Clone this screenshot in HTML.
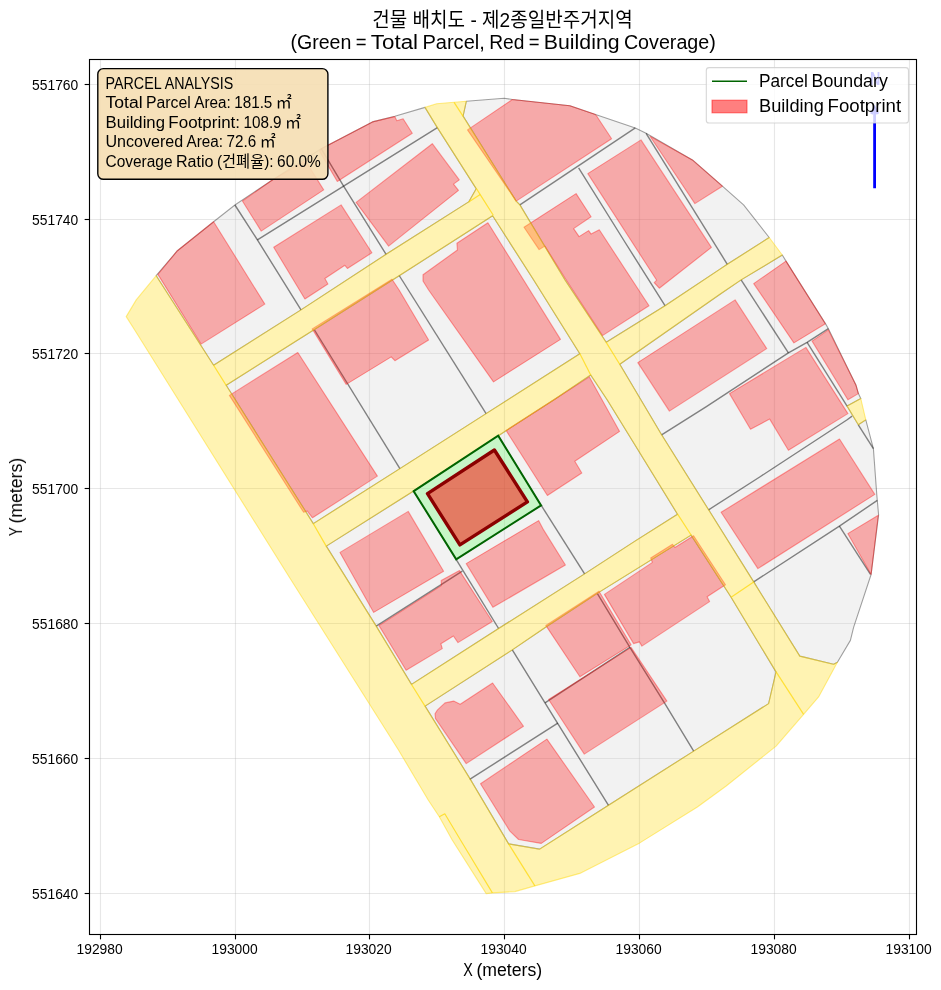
<!DOCTYPE html>
<html lang="en"><head><meta charset="utf-8"><title>Building Layout</title>
<style>html,body{margin:0;padding:0;background:#fff}body{width:941px;height:990px;overflow:hidden}svg{display:block}text{font-family:"Liberation Sans","Noto Sans CJK KR",sans-serif;fill:#000;filter:url(#gs)}</style></head><body>
<svg width="941" height="990" viewBox="0 0 941 990">
<rect width="941" height="990" fill="#fff"/>
<defs><filter id="gs" x="-5%" y="-20%" width="110%" height="140%" color-interpolation-filters="sRGB"><feOffset dx="0" dy="0"/></filter><clipPath id="ax"><rect x="89.50" y="59.50" width="827.00" height="875.00"/></clipPath></defs>
<g clip-path="url(#ax)">
<g stroke="#b0b0b0" stroke-opacity="0.3" stroke-width="1.1" fill="none">
<line x1="100.50" y1="59.50" x2="100.50" y2="934.50"/>
<line x1="89.50" y1="893.50" x2="916.50" y2="893.50"/>
<line x1="235.50" y1="59.50" x2="235.50" y2="934.50"/>
<line x1="89.50" y1="758.50" x2="916.50" y2="758.50"/>
<line x1="369.50" y1="59.50" x2="369.50" y2="934.50"/>
<line x1="89.50" y1="623.50" x2="916.50" y2="623.50"/>
<line x1="504.50" y1="59.50" x2="504.50" y2="934.50"/>
<line x1="89.50" y1="488.50" x2="916.50" y2="488.50"/>
<line x1="639.50" y1="59.50" x2="639.50" y2="934.50"/>
<line x1="89.50" y1="353.50" x2="916.50" y2="353.50"/>
<line x1="774.50" y1="59.50" x2="774.50" y2="934.50"/>
<line x1="89.50" y1="219.50" x2="916.50" y2="219.50"/>
<line x1="909.50" y1="59.50" x2="909.50" y2="934.50"/>
<line x1="89.50" y1="84.50" x2="916.50" y2="84.50"/>
</g>
<path d="M646.1 133.3 L635.3 127.9 L594.8 114.2 L569.9 105.7 L512.4 99.5 L504.2 98.2 L466.3 101.3 L466.3 101.3 L466.3 101.3 L466.3 101.3 L466.3 101.3 L463.1 116.1 L516.2 201.1 L519.9 204.9 L519.9 204.9 L519.9 204.9 L565.0 280.0 L606.2 342.3 L665.0 305.7 L720.0 269.1 L720.0 269.1 L727.3 264.3 L727.3 264.3 L769.2 237.5 L743.6 204.9 L722.4 186.2 L692.4 159.9Z M234.9 205.0 L213.6 221.7 L177.4 250.7 L156.2 275.7 L156.2 275.7 L156.2 275.7 L156.2 275.7 L156.2 275.7 L213.6 365.2 L301.0 309.9 L386.1 254.3 L386.1 254.3 L468.7 201.9 L476.2 188.7 L476.2 188.6 L437.5 127.9 L437.5 127.9 L425.0 107.4 L425.0 107.4 L425.0 107.4 L425.0 107.4 L394.8 116.2 L372.4 121.9 L321.2 148.7 L272.3 180.0Z M399.9 468.6 L486.1 413.6 L579.8 353.7 L533.7 280.0 L492.6 215.8 L465.0 233.5 L465.0 233.5 L401.1 274.5 L401.1 274.5 L313.6 330.0 L313.6 330.0 L226.2 385.3 L313.3 523.6Z M878.6 514.9 L876.8 494.9 L873.4 448.6 L865.8 419.9 L858.3 424.8 L858.3 424.8 L858.3 424.8 L858.3 424.8 L858.3 424.8 L858.3 424.8 L858.3 424.8 L858.3 424.8 L858.3 424.8 L858.3 424.8 L858.3 424.8 L858.3 424.8 L858.3 424.8 L858.3 424.8 L858.3 424.8 L858.3 424.8 L858.3 424.8 L847.1 406.1 L847.1 406.1 L847.1 406.1 L847.1 406.1 L847.1 406.1 L847.1 406.1 L847.1 406.1 L847.1 406.1 L847.1 406.1 L847.1 406.1 L847.1 406.1 L847.1 406.1 L847.1 406.1 L847.1 406.1 L847.1 406.1 L847.1 406.1 L847.1 406.1 L860.8 398.6 L860.8 398.6 L858.4 393.6 L855.9 384.9 L828.4 328.7 L825.9 324.4 L786.0 261.1 L782.3 255.0 L782.3 255.0 L741.1 279.9 L720.0 294.2 L619.8 364.2 L661.6 434.8 L708.6 509.8 L753.7 581.9 L753.7 581.9 L799.8 656.1 L833.6 664.3 L837.4 662.3 L837.4 662.3 L837.4 662.3 L837.4 662.3 L837.4 662.3 L837.4 662.3 L837.4 662.3 L837.4 662.3 L837.4 662.3 L837.4 662.3 L837.4 662.3 L837.4 662.3 L850.4 640.4 L853.6 627.3 L871.1 574.5Z M498.3 435.8 L541.1 505.4 L456.2 559.3 L413.7 491.2 L466.2 456.7 L413.6 491.0 L413.6 491.0 L326.3 546.1 L376.2 626.1 L376.2 626.1 L411.5 684.4 L498.6 628.5 L498.6 628.5 L584.6 573.9 L635.0 541.1 L635.0 541.1 L677.5 514.2 L635.0 445.0 L607.3 400.0 L590.7 375.0 L553.6 400.0 L553.6 400.0 L498.3 435.7Z M512.3 649.9 L425.1 706.1 L469.9 778.6 L469.9 778.6 L508.6 843.9 L539.6 849.1 L608.5 805.3 L693.7 751.1 L693.7 751.1 L768.6 703.6 L776.0 671.9 L731.1 597.3 L691.1 535.1 L599.6 591.9 L547.4 626.0 L512.3 649.9Z" fill="#d3d3d3" fill-opacity="0.3" stroke="#000" stroke-opacity="0.36" stroke-width="1.1" stroke-linejoin="round"/>
<g fill="none" stroke="#000" stroke-opacity="0.47" stroke-width="1.4" stroke-linecap="butt" stroke-linejoin="round">
<polyline points="234.9,205.0 257.4,239.9 301.0,309.9"/>
<polyline points="257.4,239.9 343.6,186.1 437.4,127.6"/>
<polyline points="321.2,148.7 343.6,186.1 386.1,254.3"/>
<polyline points="314.5,330.0 399.9,468.6"/>
<polyline points="399.2,275.5 486.1,413.6"/>
<polyline points="519.9,204.9 635.3,127.9"/>
<polyline points="578.6,167.9 623.6,240.0 665.0,305.7"/>
<polyline points="646.1,133.3 727.3,264.3"/>
<polyline points="741.1,279.9 788.4,352.9"/>
<polyline points="661.6,434.8 706.0,406.8 788.4,352.9 807.1,342.4 828.4,328.7"/>
<polyline points="807.1,342.4 847.1,406.1"/>
<polyline points="858.3,424.8 873.4,448.6"/>
<polyline points="708.6,509.8 759.7,477.0 846.8,420.0 852.1,416.1"/>
<polyline points="753.7,581.9 839.4,526.1 877.3,500.4"/>
<polyline points="839.4,526.1 870.5,574.3"/>
<polyline points="541.1,505.2 584.6,573.9"/>
<polyline points="456.1,559.3 498.6,628.5"/>
<polyline points="376.2,626.1 462.3,571.2"/>
<polyline points="512.3,649.9 545.0,702.9 557.8,723.7 608.5,805.3"/>
<polyline points="469.7,779.4 557.8,723.1"/>
<polyline points="545.0,702.9 629.9,647.4"/>
<polyline points="597.4,593.7 629.9,647.4 664.9,703.6 693.7,751.1"/>
</g>
<g fill="#ff0000" fill-opacity="0.3" stroke="#ff0000" stroke-opacity="0.36" stroke-width="1.1" stroke-linejoin="round">
<polygon points="157.9,274.4 177.4,250.7 213.6,221.7 264.8,304.1 201.1,344.1"/>
<polygon points="242.4,201.0 272.3,180.0 305.5,160.8 323.7,189.9 261.2,231.1"/>
<polygon points="337.3,181.5 412.3,133.2 403.1,118.7 396.8,120.7 394.8,116.6 372.4,121.9 321.2,148.7 319.6,151.4"/>
<polygon points="273.7,247.3 341.1,204.9 371.9,252.8 347.4,268.5 344.9,265.3 324.9,278.5 327.9,284.0 304.9,299.0"/>
<polygon points="356.1,202.4 432.3,143.7 459.3,179.9 453.5,184.1 458.5,190.4 388.6,246.1"/>
<polygon points="467.5,129.9 512.4,99.5 569.9,105.7 594.8,114.2 596.8,116.2 611.6,138.7 516.2,201.1"/>
<polygon points="524.0,227.3 576.1,193.6 591.1,216.8 573.6,228.6 579.1,236.6 588.6,230.6 591.1,234.1 599.3,229.8 649.0,305.7 602.5,335.6 566.2,280.0 544.9,246.1 539.1,249.6"/>
<polygon points="587.8,173.6 641.0,139.9 711.4,247.4 659.3,288.2 654.2,282.7 656.7,280.2"/>
<polygon points="650.0,136.2 692.4,159.9 722.4,186.2 694.9,203.6"/>
<polygon points="423.0,274.8 457.4,250.0 456.9,243.3 487.9,222.8 560.5,339.4 493.5,381.9 428.6,290.0 423.0,281.0"/>
<polygon points="312.2,328.9 392.0,279.2 399.1,290.0 428.6,340.0 394.9,360.7 391.2,356.9 346.2,384.4"/>
<polygon points="229.4,395.4 297.8,352.5 377.4,476.1 312.5,517.8 307.3,511.1 303.6,512.3"/>
<polygon points="340.0,552.4 408.2,511.4 443.6,571.2 373.7,612.4"/>
<polygon points="506.1,430.5 589.4,376.9 619.6,431.4 574.8,461.2 581.8,473.0 547.4,495.5"/>
<polygon points="466.2,563.6 538.6,520.6 543.6,529.9 565.4,565.0 492.9,607.3"/>
<polygon points="379.0,625.6 441.4,585.6 441.2,580.5 459.5,570.6 492.3,621.5 458.0,642.6 453.4,636.0 440.9,643.8 442.3,648.6 406.1,670.3"/>
<polygon points="435.0,713.7 437.5,709.9 445.0,702.9 453.7,701.1 460.2,704.2 492.6,683.0 523.5,726.2 466.2,763.6 435.5,718.6"/>
<polygon points="480.5,783.8 546.9,739.1 594.5,807.0 541.3,843.4 518.6,839.5 509.9,831.1"/>
<polygon points="548.6,699.5 631.1,647.4 666.9,701.1 584.3,754.1"/>
<polygon points="545.8,625.4 599.0,591.2 631.1,644.9 579.9,676.8"/>
<polygon points="604.4,594.4 652.4,562.4 650.7,558.0 672.5,544.3 674.9,547.5 693.6,535.7 725.5,584.7 707.1,596.8 709.6,601.6 641.9,646.1 639.4,641.9 633.6,643.6"/>
<polygon points="637.8,362.6 735.1,299.9 766.7,348.6 669.4,411.1"/>
<polygon points="753.7,283.6 786.0,261.1 825.4,323.7 793.9,342.9"/>
<polygon points="812.1,341.1 828.4,329.9 855.9,384.9 858.4,393.6 847.9,399.8"/>
<polygon points="729.5,393.6 805.9,347.4 847.9,413.6 788.4,450.3 769.7,419.1 750.5,429.3"/>
<polygon points="721.1,512.3 839.5,439.0 874.8,494.4 757.9,568.6"/>
<polygon points="847.8,533.6 878.3,515.3 871.1,574.4"/>
</g>
<path d="M818.6 696.9 L837.4 662.3 L833.6 664.4 L799.8 656.1 L753.7 581.9 L708.6 509.8 L661.6 434.8 L619.7 364.2 L720.0 294.2 L741.1 279.9 L782.3 255.0 L769.2 237.5 L727.3 264.3 L720.0 269.1 L665.0 305.7 L606.2 342.4 L565.0 280.0 L519.9 204.9 L516.2 201.1 L463.0 116.1 L466.3 101.3 L454.1 102.3 L436.6 103.8 L425.0 107.4 L437.5 127.9 L476.2 188.6 L476.3 188.7 L468.7 201.9 L386.1 254.3 L301.0 309.9 L213.6 365.3 L156.2 275.7 L136.2 299.9 L126.2 316.6 L135.0 330.5 L290.0 578.3 L398.5 750.0 L428.2 800.0 L439.3 816.8 L452.2 840.0 L486.2 893.6 L492.4 892.9 L514.9 891.6 L534.9 885.9 L579.8 873.4 L639.8 842.9 L697.4 807.0 L726.2 786.0 L776.1 746.1 L803.6 714.3Z M401.1 274.5 L465.0 233.5 L492.7 215.7 L533.7 280.0 L579.9 353.7 L486.1 413.6 L399.9 468.6 L313.3 523.7 L226.1 385.3 L313.6 330.0Z M607.3 400.0 L635.0 445.0 L677.6 514.2 L635.0 541.1 L584.6 573.9 L498.6 628.5 L411.5 684.5 L376.2 626.1 L326.2 546.1 L413.6 491.0 L498.3 435.7 L553.6 400.0 L590.7 374.9Z M731.1 597.3 L776.1 671.9 L768.6 703.6 L693.7 751.1 L608.5 805.3 L539.6 849.2 L508.6 843.9 L469.9 778.6 L425.0 706.1 L512.3 649.9 L547.4 626.0 L599.6 591.9 L691.1 535.0Z M860.8 398.6 L847.1 406.1 L858.3 424.8 L865.8 419.8Z" fill="#ffd700" fill-opacity="0.3" stroke="#ffd700" stroke-opacity="0.45" stroke-width="1.1" stroke-linejoin="round"/>
<g fill="none" stroke="#ffd700" stroke-opacity="0.7" stroke-width="1.2" stroke-linejoin="round">
<polyline points="439.3,816.8 444.8,813.8 460.5,840.0 492.4,892.9"/>
<polyline points="508.6,843.9 534.9,885.9"/>
<polyline points="454.1,102.3 463.0,116.1"/>
<polyline points="776.1,671.9 803.6,714.3"/>
<polyline points="731.1,597.3 753.7,581.9"/>
<polyline points="677.6,514.2 691.1,535.0"/>
<polyline points="579.9,353.7 590.7,374.9"/>
<polyline points="606.2,342.4 619.7,364.2"/>
<polyline points="476.4,188.5 480.2,194.6 493.3,215.3"/>
<polyline points="468.7,201.9 480.2,194.6"/>
<polyline points="213.6,365.3 226.1,385.3"/>
<polyline points="313.3,523.7 326.2,546.1"/>
<polyline points="411.5,684.5 425.0,706.1"/>
</g>
<polygon points="413.7,491.2 498.2,435.7 541.1,505.4 456.2,559.3" fill="#90ee90" fill-opacity="0.5" stroke="none"/>
<polygon points="413.7,491.2 498.2,435.7 541.1,505.4 456.2,559.3" fill="none" stroke="#006400" stroke-width="2.0" stroke-linejoin="miter"/>
<polygon points="427.5,493.7 494.4,450.0 527.4,501.9 459.9,544.9" fill="#ff0000" fill-opacity="0.5" stroke="none"/>
<polygon points="427.5,493.7 494.4,450.0 527.4,501.9 459.9,544.9" fill="none" stroke="#8b0000" stroke-width="3.4" stroke-linejoin="round"/>
<line x1="874.6" y1="188.2" x2="874.6" y2="108.5" stroke="#0000ff" stroke-width="2.8" stroke-linecap="butt"/>
<polyline points="871.3,114 874.6,107.6 877.9,114" fill="none" stroke="#0000ff" stroke-width="2.8" stroke-linejoin="miter"/>
<text x="875.3" y="84.6" text-anchor="middle" font-size="17.5" font-weight="bold" textLength="10.4" lengthAdjust="spacingAndGlyphs" style="fill:#0000ff">N</text>
</g>
<rect x="89.50" y="59.50" width="827.00" height="875.00" fill="none" stroke="#000" stroke-width="1.11"/>
<g stroke="#000" stroke-width="1.11">
<line x1="100.50" y1="934.50" x2="100.50" y2="939.36"/>
<line x1="89.50" y1="893.50" x2="84.64" y2="893.50"/>
<line x1="235.50" y1="934.50" x2="235.50" y2="939.36"/>
<line x1="89.50" y1="758.50" x2="84.64" y2="758.50"/>
<line x1="369.50" y1="934.50" x2="369.50" y2="939.36"/>
<line x1="89.50" y1="623.50" x2="84.64" y2="623.50"/>
<line x1="504.50" y1="934.50" x2="504.50" y2="939.36"/>
<line x1="89.50" y1="488.50" x2="84.64" y2="488.50"/>
<line x1="639.50" y1="934.50" x2="639.50" y2="939.36"/>
<line x1="89.50" y1="353.50" x2="84.64" y2="353.50"/>
<line x1="774.50" y1="934.50" x2="774.50" y2="939.36"/>
<line x1="89.50" y1="219.50" x2="84.64" y2="219.50"/>
<line x1="909.50" y1="934.50" x2="909.50" y2="939.36"/>
<line x1="89.50" y1="84.50" x2="84.64" y2="84.50"/>
</g>
<text y="954.20" font-size="14.58"><tspan x="76.47" textLength="46.25" lengthAdjust="spacingAndGlyphs">192980</tspan></text>
<text y="898.90" font-size="14.58"><tspan x="32.05" textLength="46.25" lengthAdjust="spacingAndGlyphs">551640</tspan></text>
<text y="954.20" font-size="14.58"><tspan x="211.47" textLength="46.25" lengthAdjust="spacingAndGlyphs">193000</tspan></text>
<text y="763.90" font-size="14.58"><tspan x="32.05" textLength="46.25" lengthAdjust="spacingAndGlyphs">551660</tspan></text>
<text y="954.20" font-size="14.58"><tspan x="345.47" textLength="46.25" lengthAdjust="spacingAndGlyphs">193020</tspan></text>
<text y="628.90" font-size="14.58"><tspan x="32.05" textLength="46.25" lengthAdjust="spacingAndGlyphs">551680</tspan></text>
<text y="954.20" font-size="14.58"><tspan x="480.47" textLength="46.25" lengthAdjust="spacingAndGlyphs">193040</tspan></text>
<text y="493.90" font-size="14.58"><tspan x="32.05" textLength="46.25" lengthAdjust="spacingAndGlyphs">551700</tspan></text>
<text y="954.20" font-size="14.58"><tspan x="615.47" textLength="46.25" lengthAdjust="spacingAndGlyphs">193060</tspan></text>
<text y="358.90" font-size="14.58"><tspan x="32.05" textLength="46.25" lengthAdjust="spacingAndGlyphs">551720</tspan></text>
<text y="954.20" font-size="14.58"><tspan x="750.47" textLength="46.25" lengthAdjust="spacingAndGlyphs">193080</tspan></text>
<text y="224.90" font-size="14.58"><tspan x="32.05" textLength="46.25" lengthAdjust="spacingAndGlyphs">551740</tspan></text>
<text y="954.20" font-size="14.58"><tspan x="885.47" textLength="46.25" lengthAdjust="spacingAndGlyphs">193100</tspan></text>
<text y="89.90" font-size="14.58"><tspan x="32.05" textLength="46.25" lengthAdjust="spacingAndGlyphs">551760</tspan></text>
<text y="975.80" font-size="17.50"><tspan x="463.20" textLength="9.55" lengthAdjust="spacingAndGlyphs">X</tspan> <tspan x="476.48" textLength="65.72" lengthAdjust="spacingAndGlyphs">(meters)</tspan></text>
<text y="0.00" font-size="17.50" transform="translate(22,496.9) rotate(-90)"><tspan x="-39.15" textLength="8.85" lengthAdjust="spacingAndGlyphs">Y</tspan> <tspan x="-26.57" textLength="65.72" lengthAdjust="spacingAndGlyphs">(meters)</tspan></text>
<text x="372.3" y="26.70" font-size="20.42" textLength="260.4" lengthAdjust="spacingAndGlyphs">건물 배치도 - 제2종일반주거지역</text>
<text y="49.30" font-size="20.42"><tspan x="290.41" textLength="60.92" lengthAdjust="spacingAndGlyphs">(Green</tspan> <tspan x="355.69" textLength="10.79" lengthAdjust="spacingAndGlyphs">=</tspan> <tspan x="370.83" textLength="47.23" lengthAdjust="spacingAndGlyphs">Total</tspan> <tspan x="422.42" textLength="62.42" lengthAdjust="spacingAndGlyphs">Parcel,</tspan> <tspan x="489.19" textLength="35.17" lengthAdjust="spacingAndGlyphs">Red</tspan> <tspan x="528.72" textLength="10.79" lengthAdjust="spacingAndGlyphs">=</tspan> <tspan x="543.86" textLength="75.68" lengthAdjust="spacingAndGlyphs">Building</tspan> <tspan x="623.90" textLength="91.89" lengthAdjust="spacingAndGlyphs">Coverage)</tspan></text>
<rect x="97.8" y="68.6" width="230.1" height="110.7" rx="5.6" ry="5.6" fill="#f5deb3" fill-opacity="0.9" stroke="#000" stroke-width="1.39"/>
<text y="88.50" font-size="16.04"><tspan x="105.50" textLength="55.70" lengthAdjust="spacingAndGlyphs">PARCEL</tspan> <tspan x="164.63" textLength="68.72" lengthAdjust="spacingAndGlyphs">ANALYSIS</tspan></text>
<text y="107.90" font-size="16.04"><tspan x="105.50" textLength="37.11" lengthAdjust="spacingAndGlyphs">Total</tspan> <tspan x="146.03" textLength="44.80" lengthAdjust="spacingAndGlyphs">Parcel</tspan> <tspan x="194.25" textLength="36.53" lengthAdjust="spacingAndGlyphs">Area:</tspan> <tspan x="234.20" textLength="38.16" lengthAdjust="spacingAndGlyphs">181.5</tspan></text><text x="275.8" y="107.90" font-size="16.04" style="font-family:'Noto Sans CJK KR',sans-serif">㎡</text>
<text y="127.60" font-size="16.04"><tspan x="105.50" textLength="59.46" lengthAdjust="spacingAndGlyphs">Building</tspan> <tspan x="168.38" textLength="71.64" lengthAdjust="spacingAndGlyphs">Footprint:</tspan> <tspan x="243.45" textLength="38.16" lengthAdjust="spacingAndGlyphs">108.9</tspan></text><text x="285.0" y="127.60" font-size="16.04" style="font-family:'Noto Sans CJK KR',sans-serif">㎡</text>
<text y="147.30" font-size="16.04"><tspan x="105.50" textLength="77.67" lengthAdjust="spacingAndGlyphs">Uncovered</tspan> <tspan x="186.60" textLength="36.53" lengthAdjust="spacingAndGlyphs">Area:</tspan> <tspan x="226.55" textLength="29.69" lengthAdjust="spacingAndGlyphs">72.6</tspan></text><text x="259.7" y="147.30" font-size="16.04" style="font-family:'Noto Sans CJK KR',sans-serif">㎡</text>
<text y="167.00" font-size="16.04"><tspan x="105.50" textLength="67.04" lengthAdjust="spacingAndGlyphs">Coverage</tspan> <tspan x="175.96" textLength="37.52" lengthAdjust="spacingAndGlyphs">Ratio</tspan> <tspan x="216.91" textLength="5.16" lengthAdjust="spacingAndGlyphs">(</tspan></text><text x="222.07" y="167.00" font-size="16.04" textLength="42.17" lengthAdjust="spacingAndGlyphs">건폐율</text><text y="167.00" font-size="16.04"><tspan x="264.24" textLength="9.41" lengthAdjust="spacingAndGlyphs">):</tspan> <tspan x="277.07" textLength="43.76" lengthAdjust="spacingAndGlyphs">60.0%</tspan></text>
<rect x="706.3" y="67.6" width="202.2" height="55.4" rx="2.8" ry="2.8" fill="#fff" fill-opacity="0.8" stroke="#ccc" stroke-opacity="0.8" stroke-width="1.1"/>
<line x1="712" y1="81.3" x2="747" y2="81.3" stroke="#006400" stroke-width="1.4"/>
<rect x="712" y="100.2" width="35" height="12.6" fill="#ff0000" fill-opacity="0.5" stroke="#ff0000" stroke-opacity="0.5" stroke-width="1.1"/>
<text y="87.00" font-size="17.50"><tspan x="759.00" textLength="48.87" lengthAdjust="spacingAndGlyphs">Parcel</tspan> <tspan x="811.60" textLength="76.20" lengthAdjust="spacingAndGlyphs">Boundary</tspan></text>
<text y="112.00" font-size="17.50"><tspan x="759.00" textLength="64.87" lengthAdjust="spacingAndGlyphs">Building</tspan> <tspan x="827.60" textLength="73.52" lengthAdjust="spacingAndGlyphs">Footprint</tspan></text>
</svg></body></html>
